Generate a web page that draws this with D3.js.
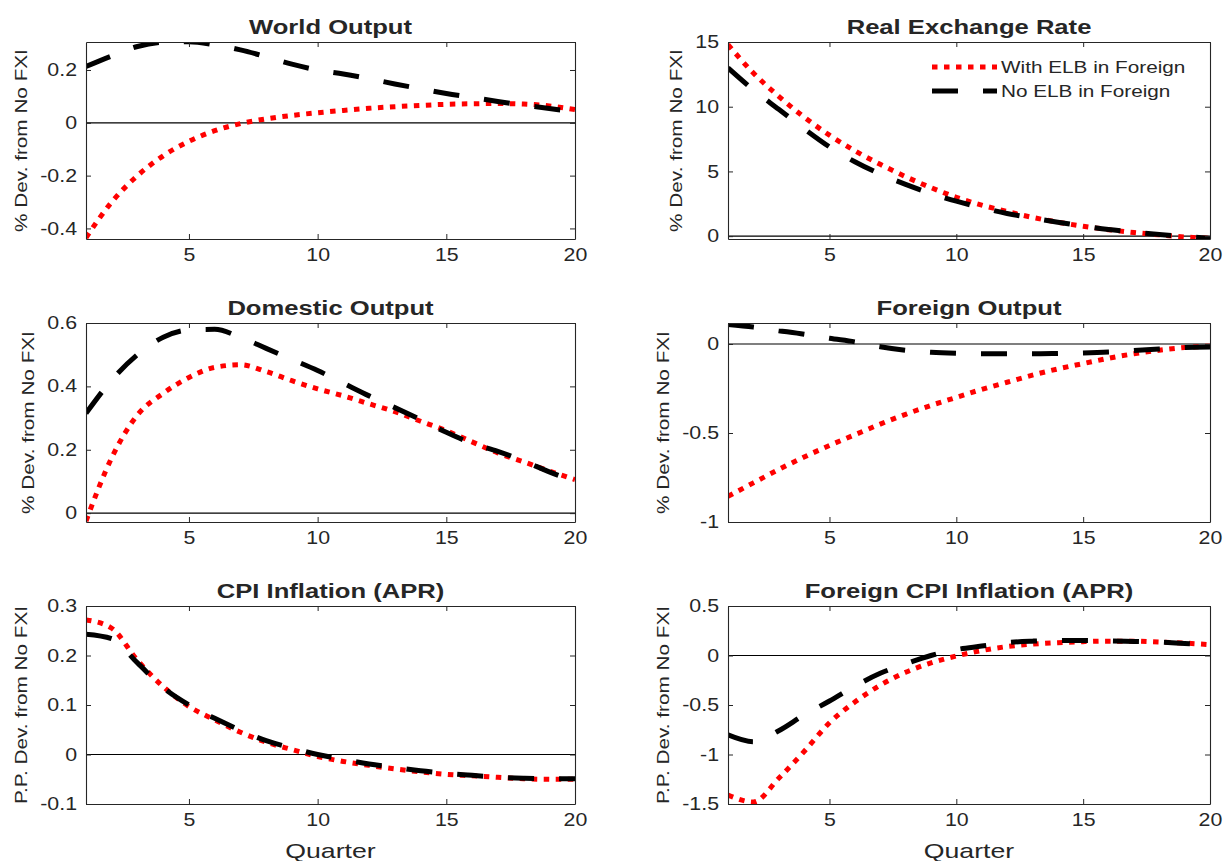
<!DOCTYPE html>
<html>
<head>
<meta charset="utf-8">
<script src="https://cdn.jsdelivr.net/npm/d3@7"></script>
<style>
  body { margin: 0; background: #fff; }
  text { font-family: "Liberation Sans", Arial, Helvetica, sans-serif; fill: #262626; }
</style>
</head>
<body>
<div id="chart"></div>
<script>
// quarters on the x axis
const quarters = [1, 2, 3, 4, 5, 6, 7, 8, 9, 10, 11, 12, 13, 14, 15, 16, 17, 18, 19, 20];
const xTicks = [5, 10, 15, 20];

const seriesNames = ["With ELB in Foreign", "No ELB in Foreign"];

// World Output
const worldWithELB = [-0.435, -0.30, -0.20, -0.125, -0.07, -0.03, -0.003, 0.015, 0.028, 0.038,
  0.047, 0.055, 0.061, 0.066, 0.070, 0.072, 0.073, 0.071, 0.064, 0.050];
const worldNoELB = [0.213, 0.253, 0.289, 0.305, 0.307, 0.295, 0.276, 0.250, 0.222, 0.200,
  0.185, 0.167, 0.147, 0.129, 0.111, 0.096, 0.081, 0.067, 0.054, 0.042];
const worldTicks = [-0.4, -0.2, 0, 0.2];
const worldRange = [-0.44, 0.306];

// Real Exchange Rate
const rerWithELB = [14.8, 12.6, 10.8, 9.2, 7.8, 6.6, 5.55, 4.6, 3.75, 3.0,
  2.4, 1.9, 1.45, 1.08, 0.77, 0.5, 0.28, 0.1, -0.06, -0.18];
const rerNoELB = [13.0, 11.3, 9.8, 8.3, 6.9, 5.75, 4.8, 4.0, 3.3, 2.7,
  2.2, 1.75, 1.4, 1.08, 0.78, 0.52, 0.32, 0.13, -0.02, -0.18];
const rerTicks = [0, 5, 10, 15];
const rerRange = [-0.22, 15.0];

// Domestic Output
const domWithELB = [-0.025, 0.175, 0.31, 0.378, 0.428, 0.46, 0.468, 0.447, 0.418, 0.392,
  0.37, 0.345, 0.32, 0.29, 0.26, 0.225, 0.19, 0.162, 0.133, 0.106];
const domNoELB = [0.315, 0.42, 0.50, 0.555, 0.578, 0.58, 0.555, 0.52, 0.485, 0.45,
  0.41, 0.37, 0.333, 0.295, 0.255, 0.22, 0.195, 0.165, 0.13, 0.10];
const domTicks = [0, 0.2, 0.4, 0.6];
const domRange = [-0.028, 0.6];

// Foreign Output
const forWithELB = [-0.856, -0.78, -0.705, -0.635, -0.57, -0.51, -0.45, -0.395, -0.345, -0.30,
  -0.255, -0.215, -0.175, -0.14, -0.11, -0.08, -0.055, -0.035, -0.02, -0.012];
const forNoELB = [0.11, 0.095, 0.075, 0.055, 0.032, 0.012, -0.015, -0.035, -0.046, -0.052,
  -0.055, -0.055, -0.055, -0.053, -0.05, -0.045, -0.037, -0.028, -0.02, -0.017];
const forTicks = [-1, -0.5, 0];
const forRange = [-1, 0.118];

// CPI Inflation (APR)
const cpiWithELB = [0.272, 0.255, 0.19, 0.137, 0.097, 0.07, 0.045, 0.025, 0.01, -0.004,
  -0.014, -0.022, -0.029, -0.035, -0.04, -0.043, -0.046, -0.049, -0.05, -0.05];
const cpiNoELB = [0.243, 0.234, 0.185, 0.135, 0.10, 0.073, 0.049, 0.028, 0.013, 0.0,
  -0.01, -0.019, -0.026, -0.033, -0.038, -0.042, -0.046, -0.048, -0.049, -0.049];
const cpiTicks = [-0.1, 0, 0.1, 0.2, 0.3];
const cpiRange = [-0.1, 0.3];

// Foreign CPI Inflation (APR)
const fcpiWithELB = [-1.41, -1.48, -1.24, -0.97, -0.68, -0.47, -0.30, -0.17, -0.075, -0.005,
  0.05, 0.09, 0.115, 0.13, 0.14, 0.145, 0.145, 0.135, 0.125, 0.11];
const fcpiNoELB = [-0.80, -0.87, -0.76, -0.60, -0.46, -0.31, -0.18, -0.085, 0.0, 0.06,
  0.095, 0.13, 0.145, 0.152, 0.152, 0.148, 0.142, 0.135, 0.122, 0.11];
const fcpiTicks = [-1.5, -1, -0.5, 0, 0.5];
const fcpiRange = [-1.5, 0.5];

const devLabel = "% Dev. from No FXI";
const ppLabel = "P.P. Dev. from No FXI";

const panels = [
  { title: "World Output", ylabel: devLabel, ticks: worldTicks, range: worldRange, red: worldWithELB, black: worldNoELB, col: 0, row: 0 },
  { title: "Real Exchange Rate", ylabel: devLabel, ticks: rerTicks, range: rerRange, red: rerWithELB, black: rerNoELB, col: 1, row: 0, legend: true },
  { title: "Domestic Output", ylabel: devLabel, ticks: domTicks, range: domRange, red: domWithELB, black: domNoELB, col: 0, row: 1 },
  { title: "Foreign Output", ylabel: devLabel, ticks: forTicks, range: forRange, red: forWithELB, black: forNoELB, col: 1, row: 1 },
  { title: "CPI Inflation (APR)", ylabel: ppLabel, ticks: cpiTicks, range: cpiRange, red: cpiWithELB, black: cpiNoELB, col: 0, row: 2 },
  { title: "Foreign CPI Inflation (APR)", ylabel: ppLabel, ticks: fcpiTicks, range: fcpiRange, red: fcpiWithELB, black: fcpiNoELB, col: 1, row: 2 },
];

const width = 1229, height = 861;
const colsX = [[86, 575], [728, 1210]];
const rowsY = [[42, 239], [323, 522], [606, 804]];
const sx = 1.22; // the figure's text is wider than Liberation Sans, stretch along the text

const redStyle = { color: "#ff0000", dash: "5.5,6.5" };
const blackStyle = { color: "#000000", dash: "26,25" };

const svg = d3.select("#chart").append("svg")
  .attr("width", width)
  .attr("height", height);

panels.forEach((p, i) => {
  const [x0, x1] = colsX[p.col];
  const [y0, y1] = rowsY[p.row];

  const x = d3.scaleLinear().domain([1, 20]).range([x0, x1]);
  const y = d3.scaleLinear().domain(p.range).range([y1, y0]);

  const g = svg.append("g");

  svg.append("clipPath").attr("id", "clip" + i)
    .append("rect")
    .attr("x", x0).attr("y", y0)
    .attr("width", x1 - x0).attr("height", y1 - y0);

  // zero line
  g.append("line")
    .attr("x1", x(1)).attr("x2", x(20))
    .attr("y1", y(0)).attr("y2", y(0))
    .attr("stroke", "#000").attr("stroke-width", 1.2);

  const line = d3.line().x((d, j) => x(quarters[j])).y(d => y(d)).curve(d3.curveMonotoneX);

  const plot = g.append("g").attr("clip-path", `url(#clip${i})`);
  plot.append("path").datum(p.red)
    .attr("d", line)
    .attr("fill", "none")
    .attr("stroke", redStyle.color)
    .attr("stroke-width", 5)
    .attr("stroke-dasharray", redStyle.dash);
  plot.append("path").datum(p.black)
    .attr("d", line)
    .attr("fill", "none")
    .attr("stroke", blackStyle.color)
    .attr("stroke-width", 5)
    .attr("stroke-dasharray", blackStyle.dash);

  const fmt = d => String(d);

  // axes: ticks pointing inward, box on all four sides
  g.append("g").attr("transform", `translate(0,${y1})`)
    .call(d3.axisBottom(x).tickValues(xTicks).tickFormat(fmt).tickSizeInner(-5).tickSizeOuter(0).tickPadding(10));
  g.append("g").attr("transform", `translate(0,${y0})`)
    .call(d3.axisTop(x).tickValues(xTicks).tickFormat("").tickSizeInner(-5).tickSizeOuter(0));
  const left = g.append("g").attr("transform", `translate(${x0},0)`)
    .call(d3.axisLeft(y).tickValues(p.ticks).tickFormat(fmt).tickSizeInner(-5).tickSizeOuter(0).tickPadding(9));
  g.append("g").attr("transform", `translate(${x1},0)`)
    .call(d3.axisRight(y).tickValues(p.ticks).tickFormat("").tickSizeInner(-5).tickSizeOuter(0));

  g.selectAll(".domain").attr("stroke", "#262626").attr("stroke-width", 1.1);
  g.selectAll(".tick line").attr("stroke", "#262626").attr("stroke-width", 1);
  g.selectAll(".tick text").attr("font-size", 17.5).attr("fill", "#262626")
    .attr("font-family", '"Liberation Sans", Arial, sans-serif')
    .attr("transform", `scale(${sx},1)`);
  left.selectAll(".tick text").attr("x", -9 / sx);

  // title
  g.append("text")
    .attr("transform", `translate(${(x0 + x1) / 2},${y0 - 8}) scale(${sx},1)`)
    .attr("text-anchor", "middle")
    .attr("font-size", 21).attr("font-weight", "bold")
    .attr("fill", "#000")
    .text(p.title);

  // y label placed outside the widest tick label
  let maxW = 0;
  left.selectAll(".tick text").each(function () { maxW = Math.max(maxW, this.getBBox().width * sx); });
  const lx = x0 - maxW - 28;
  g.append("text")
    .attr("transform", `translate(${lx},${(y0 + y1) / 2}) rotate(-90) scale(${sx},1)`)
    .attr("text-anchor", "middle")
    .attr("dy", "0.35em")
    .attr("font-size", 17)
    .text(p.ylabel);

  if (p.row === 2) {
    g.append("text")
      .attr("transform", `translate(${(x0 + x1) / 2},858) scale(1.27,1)`)
      .attr("text-anchor", "middle")
      .attr("font-size", 21)
      .text("Quarter");
  }

  if (p.legend) {
    const lg = g.append("g").attr("transform", `translate(${x0 + 204},${y0 + 25})`);
    const styles = [redStyle, blackStyle];
    seriesNames.forEach((name, k) => {
      const row = lg.append("g").attr("transform", `translate(0,${k * 24})`);
      row.append("line")
        .attr("x1", 0).attr("x2", 65)
        .attr("stroke", styles[k].color)
        .attr("stroke-width", 5)
        .attr("stroke-dasharray", styles[k].dash);
      row.append("text")
        .attr("transform", `translate(69,0) scale(${sx},1)`)
        .attr("dy", "0.35em")
        .attr("font-size", 17)
        .attr("fill", "#000")
        .text(name);
    });
  }
});
</script>
</body>
</html>
